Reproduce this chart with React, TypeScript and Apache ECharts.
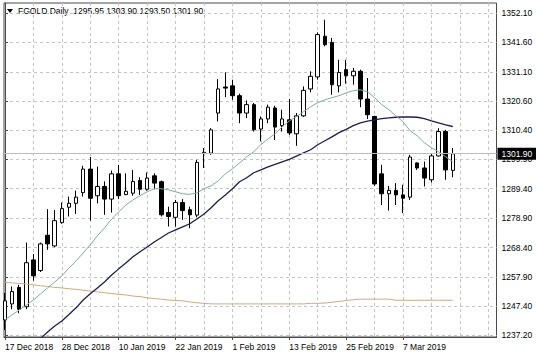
import React, { useEffect, useRef } from "react";
import * as echarts from "echarts";

const symbolName = "FGOLD.Daily";

// One entry per daily bar, 17 Dec 2018 .. 18 Mar 2019
const opens = [
  1242.6, 1248.3, 1254.2, 1247.3, 1264.0, 1260.2, 1272.8, 1269.0, 1277.3, 1282.8,
  1284.2, 1288.0, 1296.4, 1286.9, 1290.2, 1285.7, 1294.7, 1287.3, 1287.8, 1292.3,
  1289.2, 1294.0, 1291.9, 1280.9, 1279.2, 1284.5, 1281.9, 1280.0, 1302.0, 1302.1,
  1316.4, 1325.7, 1326.1, 1322.6, 1316.4, 1319.4, 1310.7, 1314.3, 1318.2, 1311.9,
  1314.0, 1309.0, 1315.4, 1325.0, 1329.3, 1343.8, 1341.6, 1326.1, 1331.9, 1329.7,
  1331.3, 1321.4, 1315.2, 1294.7, 1287.6, 1288.8, 1287.2, 1286.4, 1298.6, 1296.8,
  1292.6, 1301.1, 1309.8, 1295.95,
];
const highs = [
  1252.2, 1254.5, 1255.1, 1270.2, 1266.1, 1270.2, 1282.1, 1281.8, 1284.5, 1286.6,
  1288.7, 1297.6, 1300.7, 1297.3, 1292.0, 1295.9, 1297.9, 1294.9, 1296.1, 1293.5,
  1295.2, 1294.9, 1292.3, 1283.0, 1285.4, 1285.7, 1283.0, 1299.7, 1303.9, 1311.0,
  1328.5, 1330.9, 1328.3, 1323.3, 1320.9, 1320.0, 1315.2, 1319.4, 1319.0, 1317.6,
  1321.4, 1316.4, 1325.9, 1331.3, 1345.2, 1349.7, 1343.2, 1335.4, 1335.4, 1332.5,
  1331.9, 1328.9, 1315.4, 1297.9, 1290.4, 1291.4, 1290.8, 1301.5, 1298.8, 1299.1,
  1302.1, 1311.0, 1310.4, 1303.9,
];
const lows = [
  1239.0, 1246.4, 1245.0, 1246.4, 1256.6, 1259.7, 1267.6, 1268.5, 1276.9, 1279.5,
  1280.4, 1286.6, 1278.0, 1284.2, 1280.1, 1280.9, 1285.7, 1287.1, 1286.9, 1287.2,
  1288.7, 1289.2, 1279.5, 1275.9, 1275.9, 1278.3, 1275.3, 1279.2, 1296.8, 1301.5,
  1313.4, 1322.1, 1321.1, 1312.8, 1314.6, 1309.8, 1306.3, 1312.8, 1306.8, 1309.8,
  1308.6, 1304.7, 1315.0, 1323.8, 1328.3, 1340.2, 1322.9, 1323.8, 1326.9, 1326.5,
  1318.5, 1314.3, 1290.4, 1283.6, 1281.6, 1283.6, 1280.7, 1285.4, 1296.1, 1290.2,
  1291.6, 1300.9, 1292.6, 1293.5,
];
const closes = [
  1249.4, 1252.7, 1246.4, 1263.0, 1258.3, 1269.7, 1269.7, 1278.0, 1282.3, 1284.2,
  1286.4, 1296.4, 1286.0, 1290.2, 1285.7, 1294.7, 1286.9, 1288.5, 1292.0, 1289.2,
  1293.2, 1291.4, 1280.1, 1279.5, 1284.5, 1281.6, 1280.1, 1298.8, 1302.4, 1310.4,
  1325.0, 1325.3, 1322.6, 1316.4, 1319.4, 1310.4, 1314.3, 1318.5, 1311.4, 1314.3,
  1309.3, 1315.4, 1324.5, 1329.5, 1344.4, 1340.8, 1326.5, 1330.9, 1329.7, 1331.3,
  1321.4, 1315.8, 1291.1, 1287.6, 1288.8, 1287.2, 1286.0, 1300.7, 1296.8, 1293.2,
  1301.1, 1309.8, 1296.1, 1301.9,
];

// Moving averages
const maFast = [
  1242.6, 1244.4, 1246.1, 1247.9, 1249.7, 1251.9, 1254.0, 1256.1, 1258.3, 1261.1,
  1263.6, 1266.5, 1269.4, 1272.6, 1275.4, 1278.6, 1281.1, 1283.6, 1285.4, 1286.9,
  1288.3, 1289.4, 1289.4, 1289.0, 1288.3, 1287.6, 1287.4, 1287.9, 1289.4, 1290.4,
  1292.2, 1294.7, 1296.5, 1298.6, 1300.8, 1302.6, 1305.1, 1307.2, 1309.0, 1311.5,
  1313.6, 1315.1, 1316.9, 1318.6, 1320.1, 1321.1, 1321.9, 1322.6, 1323.6, 1324.4,
  1324.7, 1324.0, 1321.9, 1319.4, 1317.6, 1315.4, 1313.3, 1310.1, 1308.3, 1305.8,
  1304.0, 1302.6, 1300.8, 1299.0,
];
const maMid = [
  null, null, null, null, 1234.4, 1236.0, 1238.3, 1240.4, 1242.2, 1244.5,
  1246.9, 1249.7, 1251.9, 1254.0, 1256.1, 1258.6, 1260.8, 1262.9, 1265.1, 1266.9,
  1268.6, 1270.4, 1272.0, 1273.6, 1274.7, 1275.8, 1276.9, 1278.6, 1280.4, 1282.6,
  1285.1, 1287.2, 1289.4, 1291.9, 1293.3, 1295.1, 1296.1, 1297.2, 1298.1, 1299.0,
  1299.9, 1301.0, 1302.2, 1303.3, 1305.1, 1306.5, 1307.9, 1309.4, 1310.6, 1311.9,
  1312.9, 1313.5, 1314.0, 1314.4, 1314.7, 1314.9, 1315.0, 1315.0, 1314.9, 1314.4,
  1313.6, 1312.9, 1312.2, 1311.6,
];
const maSlow = [
  1256.0, 1255.8, 1255.6, 1255.4, 1255.1, 1254.8, 1254.5, 1254.2, 1254.0, 1253.7,
  1253.5, 1253.2, 1252.9, 1252.6, 1252.3, 1252.0, 1251.7, 1251.5, 1251.1, 1250.9,
  1250.5, 1250.2, 1250.0, 1249.7, 1249.5, 1249.4, 1249.0, 1248.7, 1248.5, 1248.3,
  1248.3, 1248.3, 1248.3, 1248.3, 1248.3, 1248.3, 1248.3, 1248.3, 1248.3, 1248.3,
  1248.3, 1248.3, 1248.3, 1248.5, 1248.5, 1248.6, 1248.9, 1249.2, 1249.5, 1249.8,
  1250.0, 1250.0, 1250.0, 1250.0, 1250.0, 1249.6, 1249.6, 1249.6, 1249.6, 1249.6,
  1249.6, 1249.6, 1249.6, 1249.6,
];

const dateLabels = [
  "17 Dec 2018", "28 Dec 2018", "10 Jan 2019", "22 Jan 2019",
  "1 Feb 2019", "13 Feb 2019", "25 Feb 2019", "7 Mar 2019",
];
const dateLabelBars = [0, 8, 16, 24, 32, 40, 48, 56];
const gridBars = [4, 8, 12, 16, 20, 24, 28, 32, 36, 40, 44, 48, 52, 56, 60, 64, 68];
const priceTicks = [
  1352.1, 1341.6, 1331.1, 1320.6, 1310.4, 1299.9, 1289.4, 1278.9, 1268.4, 1257.9, 1247.4, 1237.2,
];

const FONT = "'Liberation Sans', Arial, sans-serif";
const AXIS_COLOR = "#4a4a4a";
const GRID_COLOR = "#c4c4c4";

export default function App() {
  const ref = useRef<HTMLDivElement>(null);

  useEffect(() => {
    if (!ref.current) return;
    const chart = echarts.init(ref.current, undefined, { renderer: "svg" });

    const last = opens.length - 1;
    const fmt = (v: number) => v.toFixed(2);
    const header = `${symbolName}  ${fmt(opens[last])} ${fmt(highs[last])} ${fmt(lows[last])} ${fmt(closes[last])}`;

    const candleData = opens.map((o, i) => [i, o, closes[i], lows[i], highs[i]]);
    const toLine = (arr: (number | null)[]) => arr.map((v, i) => [i, v]);

    const xMin = -0.14;
    const xMax = 69.15;

    chart.setOption({
      animation: false,
      backgroundColor: "#ffffff",
      textStyle: { fontFamily: FONT },
      grid: {
        left: 4,
        top: 3,
        width: 492.5,
        height: 334,
        show: true,
        borderColor: AXIS_COLOR,
        borderWidth: 1,
        backgroundColor: "#ffffff",
      },
      xAxis: [
        {
          type: "value",
          min: xMin,
          max: xMax,
          position: "bottom",
          axisLine: { show: true, lineStyle: { color: AXIS_COLOR, width: 1 } },
          axisTick: {
            show: true,
            length: 3,
            customValues: dateLabelBars,
            lineStyle: { color: AXIS_COLOR },
          },
          axisLabel: {
            show: true,
            customValues: dateLabelBars,
            formatter: (v: number) => {
              const k = dateLabelBars.indexOf(Math.round(v));
              return k >= 0 ? dateLabels[k] : "";
            },
            align: "left",
            margin: 5,
            fontSize: 8.5,
            color: "#000",
            fontFamily: FONT,
          },
          splitLine: { show: false },
        },
        {
          type: "value",
          min: xMin,
          max: xMax,
          position: "bottom",
          axisLine: { show: false },
          axisTick: { show: false, customValues: gridBars },
          axisLabel: { show: false },
          splitLine: {
            show: true,
            lineStyle: { color: GRID_COLOR, type: [3, 3], width: 1 },
          },
        },
      ],
      yAxis: {
        type: "value",
        position: "right",
        min: 1236.49,
        max: 1355.67,
        scale: true,
        axisLine: { show: true, lineStyle: { color: AXIS_COLOR, width: 1 } },
        axisTick: {
          show: true,
          length: 3,
          customValues: priceTicks,
          lineStyle: { color: AXIS_COLOR },
        },
        axisLabel: {
          show: true,
          customValues: priceTicks,
          formatter: (v: number) => v.toFixed(2),
          margin: 5,
          fontSize: 8.5,
          color: "#000",
          fontFamily: FONT,
        },
        splitLine: {
          show: true,
          lineStyle: { color: GRID_COLOR, type: [3, 3], width: 1 },
        },
      },
      graphic: [
        {
          type: "polygon",
          shape: { points: [[7, 9], [13, 9], [10, 13]] },
          style: { fill: "#000" },
        },
        {
          type: "text",
          x: 18,
          y: 11,
          style: {
            text: header,
            fontSize: 8.5,
            fontFamily: FONT,
            fill: "#000",
            verticalAlign: "middle",
            align: "left",
          },
        },
      ],
      series: [
        {
          type: "candlestick",
          xAxisIndex: 0,
          data: candleData,
          barWidth: 4,
          clip: true,
          z: 2,
          itemStyle: {
            color: "#ffffff",
            color0: "#000000",
            borderColor: "#000000",
            borderColor0: "#000000",
            borderWidth: 1,
          },
          markLine: {
            silent: true,
            symbol: ["none", "none"],
            animation: false,
            lineStyle: { color: "#bdbdbd", type: "solid", width: 1 },
            label: {
              show: true,
              position: "end",
              distance: 1,
              formatter: () => fmt(closes[last]),
              backgroundColor: "#000",
              color: "#fff",
              fontSize: 8.5,
              fontFamily: FONT,
              padding: [2, 4, 1, 4],
            },
            data: [{ yAxis: closes[last] }],
          },
        },
        {
          type: "line",
          xAxisIndex: 0,
          data: toLine(maSlow),
          showSymbol: false,
          z: 3,
          lineStyle: { color: "#c9ab86", width: 1 },
        },
        {
          type: "line",
          xAxisIndex: 0,
          data: toLine(maMid),
          showSymbol: false,
          connectNulls: false,
          z: 3,
          lineStyle: { color: "#1e1e4e", width: 1.3 },
        },
        {
          type: "line",
          xAxisIndex: 0,
          data: toLine(maFast),
          showSymbol: false,
          z: 3,
          lineStyle: { color: "#7eac9a", width: 1 },
        },
      ],
    });

    return () => chart.dispose();
  }, []);

  return (
    <div
      ref={ref}
      style={{ position: "fixed", left: 0, top: 0, width: 536, height: 358, background: "#fff" }}
    />
  );
}
